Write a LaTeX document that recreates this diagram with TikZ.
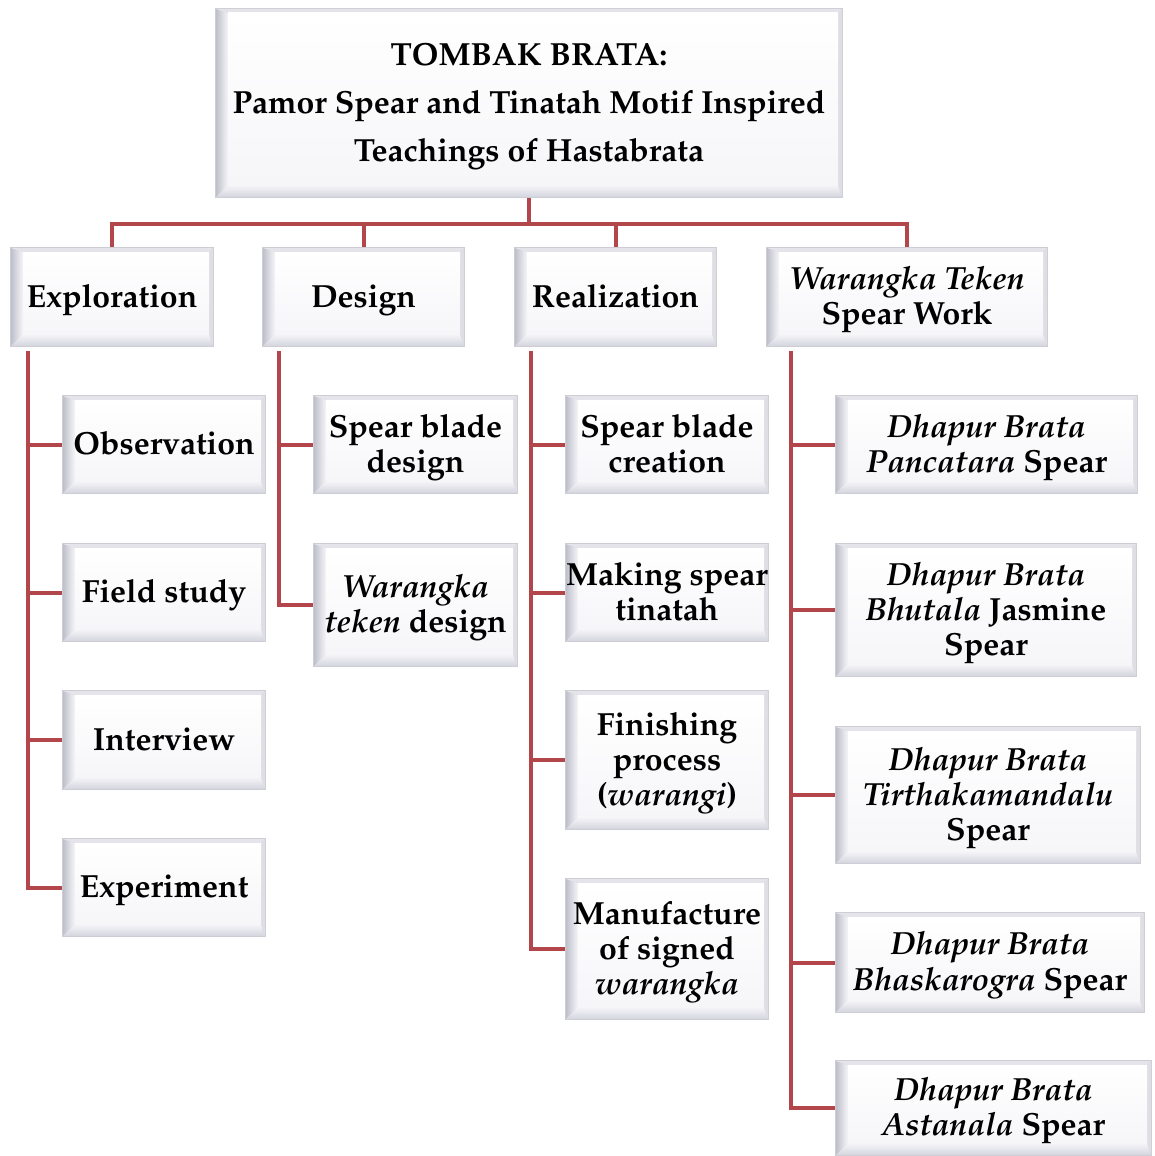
\documentclass[tikz,border=0pt]{standalone}
\usepackage[T1]{fontenc}
\usepackage{mathpazo}
\definecolor{conncol}{RGB}{178,70,74}
\definecolor{bevborder}{RGB}{205,205,212}
\definecolor{bevleft}{RGB}{192,192,204}
\definecolor{bevbot}{RGB}{212,212,222}
\definecolor{bevtop}{RGB}{228,228,234}
\definecolor{bevright}{RGB}{222,222,228}
\definecolor{bevin}{RGB}{246,246,249}
\newcommand{\bevbox}[7][]{%
  \fill[bevborder] (#3,#4) rectangle (#5,#6);
  \shade[left color=bevleft, right color=bevin] (#3+1,#4+1) -- (#3+13,#4+5) -- (#3+13,#6-13) -- (#3+1,#6-1) -- cycle;
  \shade[top color=bevin, bottom color=bevbot] (#3+1,#6-1) -- (#3+13,#6-13) -- (#5-5,#6-13) -- (#5-1,#6-1) -- cycle;
  \fill[bevtop] (#3+1,#4+1) -- (#5-1,#4+1) -- (#5-5,#4+5) -- (#3+13,#4+5) -- cycle;
  \fill[bevright] (#5-1,#4+1) -- (#5-1,#6-1) -- (#5-5,#6-13) -- (#5-5,#4+5) -- cycle;
  \shade[top color=white, bottom color=bevin] (#3+13,#4+5) rectangle (#5-5,#6-13);
  \node[rectangle, inner sep=0pt, minimum width={(#5-#3)*0.75pt}, minimum height={(#6-#4)*0.75pt}] (#2) at ({(#3+#5)/2},{(#4+#6)/2}) {};
  \node[boxtext, #1] (#2t) at ({(#3+#5)/2},{(#4+#6)/2+3}) {#7\vphantom{g}};
}
\tikzset{
  boxtext/.style={rectangle, inner sep=0pt, align=center,
    font=\fontsize{24}{26.3}\selectfont\bfseries},
  titletext/.style={font=\fontsize{24}{36}\selectfont\bfseries},
  conn/.style={draw=conncol, line width=3pt},
}
\newcommand{\iw}[1]{{\itshape #1}}
\begin{document}
\begin{tikzpicture}[x=0.75pt,y=-0.75pt]
\useasboundingbox (0,0) rectangle (1154,1156);
\bevbox[titletext]{title}{215}{8}{843}{198}{TOMBAK BRATA:\\Pamor Spear and Tinatah Motif Inspired\\Teachings of Hastabrata}
\bevbox{exp}{10}{247}{214}{347}{Exploration}
\bevbox{des}{262}{247}{465}{347}{Design}
\bevbox{rea}{514}{247}{717}{347}{Realization}
\bevbox{wts}{766}{247}{1048}{347}{\iw{Warangka Teken}\\Spear Work}
\bevbox{obs}{62}{395}{266}{494}{Observation}
\bevbox{fld}{62}{543}{266}{642}{Field study}
\bevbox{int}{62}{690}{266}{790}{Interview}
\bevbox{expe}{62}{838}{266}{937}{Experiment}
\bevbox{sbd}{313}{395}{518}{494}{Spear blade\\design}
\bevbox{wtd}{313}{543}{518}{667}{\iw{Warangka}\\\iw{teken} design}
\bevbox{sbc}{565}{395}{769}{494}{Spear blade\\creation}
\bevbox{mst}{565}{543}{769}{642}{Making spear\\tinatah}
\bevbox{fin}{565}{690}{769}{830}{Finishing\\process\\(\iw{warangi})}
\bevbox{man}{565}{878}{769}{1020}{Manufacture\\of signed\\\iw{warangka}}
\bevbox{d1}{835}{395}{1138}{494}{\iw{Dhapur Brata}\\\iw{Pancatara} Spear}
\bevbox{d2}{835}{543}{1137}{677}{\iw{Dhapur Brata}\\\iw{Bhutala} Jasmine\\Spear}
\bevbox{d3}{835}{726}{1141}{864}{\iw{Dhapur Brata}\\\iw{Tirthakamandalu}\\Spear}
\bevbox{d4}{835}{912}{1145}{1013}{\iw{Dhapur Brata}\\\iw{Bhaskarogra} Spear}
\bevbox{d5}{835}{1060}{1152}{1156}{\iw{Dhapur Brata}\\\iw{Astanala} Spear}
% top connectors
\coordinate (bus) at (528,224);
\draw[conn] (title.south) -- (title.south |- bus);
\draw[conn, line cap=rect] (exp.north |- bus) -- (wts.north |- bus);
\foreach \n in {exp,des,rea,wts} \draw[conn] (\n.north |- bus) -- (\n.north);
% stems
\coordinate (es) at ([xshift=13.5pt,yshift=-3pt]exp.south west);
\coordinate (ds) at ([xshift=12.75pt,yshift=-3pt]des.south west);
\coordinate (rs) at ([xshift=12.75pt,yshift=-3pt]rea.south west);
\coordinate (ws) at ([xshift=18.75pt,yshift=-3pt]wts.south west);
\draw[conn] (es) |- (expe.west);
\foreach \n in {obs,fld,int} \draw[conn] (\n.west -| es) -- (\n.west);
\draw[conn] (ds) |- (wtd.west);
\draw[conn] (sbd.west -| ds) -- (sbd.west);
\draw[conn] (rs) |- (man.west);
\foreach \n in {sbc,mst,fin} \draw[conn] (\n.west -| rs) -- (\n.west);
\draw[conn] (ws) |- (d5.west);
\foreach \n in {d1,d2,d3,d4} \draw[conn] (\n.west -| ws) -- (\n.west);
\end{tikzpicture}
\end{document}
